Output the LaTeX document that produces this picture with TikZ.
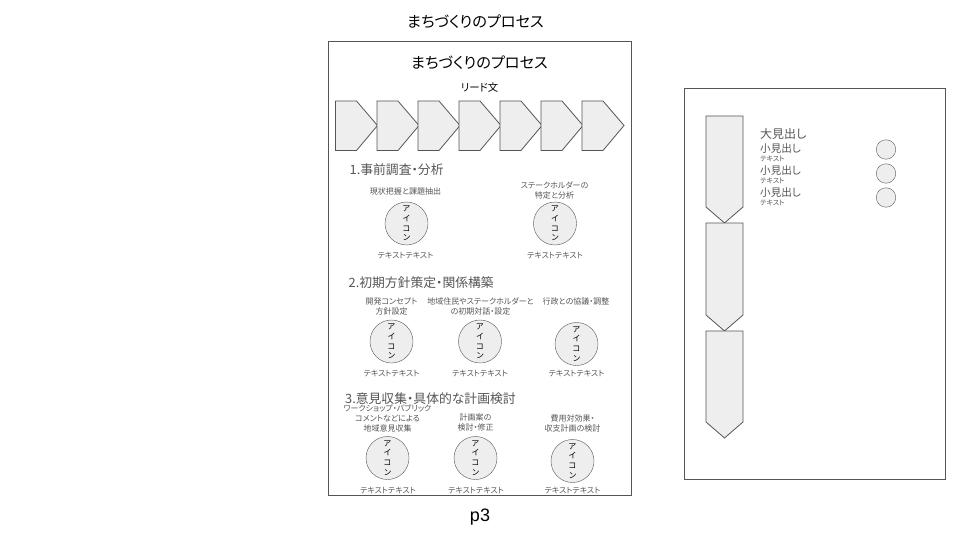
\documentclass[tikz,border=0pt]{standalone}
\usepackage{fontspec}
\setmainfont{Noto Sans CJK JP}[RawFeature=+palt]
\newfontfamily\latinfont{Liberation Sans}
\definecolor{shapefill}{HTML}{EEEEEE}
\definecolor{shapeline}{HTML}{555555}
\definecolor{softtext}{HTML}{555555}
\newcommand{\fs}[1]{\fontsize{#1}{#1}\selectfont}
\tikzset{
	title/.style={inner sep=0pt,font=\fs{15.2}},
	headtext/.style={inner sep=0pt,anchor=west,text=softtext,font=\fs{12.8}},
	smalltext/.style={inner sep=0pt,align=center,text=softtext,font=\fontsize{8}{10}\selectfont},
	icon/.style={circle,draw=shapeline,fill=shapefill,minimum size=43pt,inner sep=0pt,align=center,font=\fontsize{8}{9.7}\selectfont},
	dot/.style={circle,draw=shapeline,fill=shapefill,minimum size=19.5pt,inner sep=0pt},
	shapeline/.style={draw=shapeline,fill=shapefill,line width=0.8pt}
}
\begin{document}
\begin{tikzpicture}[x=1pt,y=-1pt]
		\useasboundingbox (0,0) rectangle (960,540);

		\draw[draw=shapeline,line width=0.8pt] (328.5,41.5) rectangle (631.5,495.5);
		\draw[draw=shapeline,line width=0.8pt] (684.5,88.5) rectangle (945.5,479.5);

		\node[title] (pagetitle) at (475.5,21.5) {まちづくりのプロセス};
		\node[title] (slidetitle) at (479.5,62.5) {まちづくりのプロセス};
		\node[inner sep=0pt,font=\fs{10.4}] (lead) at (479.5,88) {リード文};
		\node[inner sep=0pt,font=\fs{18}\latinfont] (pageno) at (480,517) {p3};

		% process row
		\foreach \x in {335.5, 377, 418, 459, 500, 541, 582} {\draw[shapeline] (\x,101) -- (\x+21,101) -- (\x+42,125.5) -- (\x+21,150.5) -- (\x,150.5) -- cycle;}

		% side arrows
		\foreach \y/\b in {116/207, 223/315, 331/422} {\draw[shapeline] (706,\y) -- (743,\y) -- (743,\b) -- (724.5,\b+16) -- (706,\b) -- cycle;}

		\node[headtext] (head1) at (349.5,169.5) {1.事前調査・分析};
		\node[headtext] (head2) at (348.5,282.5) {2.初期方針策定・関係構築};
		\node[headtext] (head3) at (345,398.5) {3.意見収集・具体的な計画検討};

		\node[smalltext] (cap11) at (405.5,191.5) {現状把握と課題抽出};
		\node[smalltext] (cap12) at (554.5,190.5) {ステークホルダーの\\特定と分析};
		\node[smalltext] (cap21) at (391.5,306) {開発コンセプト\\方針設定};
		\node[smalltext] (cap22) at (480.5,306) {地域住民やステークホルダーと\\の初期対話・設定};
		\node[smalltext] (cap23) at (576,301.5) {行政との協議・調整};
		\node[smalltext] (cap31) at (387.5,418) {ワークショップ・パブリック\\コメントなどによる\\地域意見収集};
		\node[smalltext] (cap32) at (475.5,422.5) {計画案の\\検討・修正};
		\node[smalltext] (cap33) at (572.5,423) {費用対効果・\\収支計画の検討};

		\foreach \name/\x/\y in {i11/406.5/223.5, i12/555/223.5, i21/391.5/341.5, i22/480/341.5, i23/576.5/344, i31/387.5/458, i32/475.5/458, i33/572.5/461} {
			\node[icon] (\name) at (\x,\y) {ア\\イ\\コ\\ン};
		}

		\foreach \name/\x/\y in {t11/405.5/255.5, t12/555/255.5, t21/391.5/373.5, t22/480/373.5, t23/576.5/373.5, t31/388/490.5, t32/476/490.5, t33/572.5/490.5} {
			\node[smalltext] (\name) at (\x,\y) {テキストテキスト};
		}

		\node[inner sep=0pt,anchor=west,text=softtext,font=\fs{12}] (bighead) at (760,134) {大見出し};
		\foreach \name/\y in {a/149, b/171, c/193} {
			\node[inner sep=0pt,anchor=west,text=softtext,font=\fs{10.6}] (sub\name) at (760,\y) {小見出し};
			\node[inner sep=0pt,anchor=west,text=softtext,font=\fs{7}] (text\name) at (760,\y+10) {テキスト};
		}

		\node[dot] (dot1) at (886,149.5) {};
		\node[dot] (dot2) at (886,173.5) {};
		\node[dot] (dot3) at (886,197.5) {};
\end{tikzpicture}
\end{document}
